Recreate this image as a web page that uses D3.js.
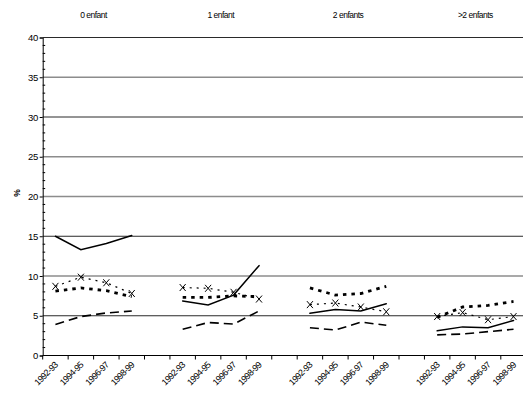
<!DOCTYPE html>
<html><head><meta charset="utf-8">
<script src="https://cdn.jsdelivr.net/npm/d3@7"></script>
<style>
body{margin:0;background:#fff;}
svg{display:block;font-family:"Liberation Sans",Arial,sans-serif;}
</style></head>
<body><svg id="c" width="523" height="400"></svg>
<script>
const groups = ["0 enfant", "1 enfant", "2 enfants", ">2 enfants"];
const periods = ["1992-93", "1994-95", "1996-97", "1998-99"];
const yTicks = [0, 5, 10, 15, 20, 25, 30, 35, 40];
// values per group, in period order
const solidSeries  = [15.0, 13.3, 14.1, 15.1,  6.85, 6.35, 7.6, 11.3,  5.3, 5.8, 5.6, 6.5,  3.1, 3.6, 3.5, 4.4];
const crossSeries  = [8.7, 9.85, 9.15, 7.8,  8.55, 8.45, 7.95, 7.1,  6.4, 6.6, 6.1, 5.5,  4.9, 5.4, 4.5, 4.9];
const dottedSeries = [8.1, 8.5, 8.15, 7.4,  7.3, 7.3, 7.5, 7.4,  8.5, 7.6, 7.8, 8.7,  4.8, 6.1, 6.3, 6.8];
const dashSeries   = [3.9, 4.9, 5.35, 5.6,  3.3, 4.15, 3.95, 5.6,  3.5, 3.2, 4.2, 3.8,  2.6, 2.7, 3.0, 3.3];

(function () {
const svg = d3.select("#c");
const left = 42.7, slotW = 25.45, nSlots = 19;
const plotTop = 37.5, plotBottom = 355.5;

const slots = d3.range(nSlots);
const x = d3.scaleBand().domain(slots).range([left, left + nSlots * slotW]).paddingInner(0).paddingOuter(0);
const y = d3.scaleLinear().domain([0, 40]).range([plotBottom, plotTop]);

function slotOf(g, i) { return g * 5 + i; }

// gridlines
const darkLines = new Set([40, 30, 15, 5]);
svg.append("g").selectAll("line").data(yTicks.filter(d => d > 0)).join("line")
  .attr("x1", left).attr("x2", 523)
  .attr("y1", d => y(d)).attr("y2", d => y(d))
  .attr("stroke", d => darkLines.has(d) ? "#2a2a2a" : "#8c8c8c")
  .attr("stroke-width", d => darkLines.has(d) ? 1 : 1.6);

// y axis
const yAxis = svg.append("g").attr("transform", `translate(${left},0)`)
  .call(d3.axisLeft(y).tickValues(yTicks).tickSize(3).tickPadding(2).tickFormat(d3.format("d")));
yAxis.select(".domain").attr("stroke", "#000");
yAxis.selectAll(".tick line").attr("stroke", "#000");
yAxis.selectAll("text").attr("font-size", 9.5).attr("fill", "#000")
  .attr("font-family", "Liberation Sans, Arial, sans-serif").attr("letter-spacing", -0.5);
// minor ticks
svg.append("g").selectAll("line").data(d3.range(0, 41).filter(d => d % 5 !== 0)).join("line")
  .attr("x1", left).attr("x2", left + 2.5)
  .attr("y1", d => y(d)).attr("y2", d => y(d))
  .attr("stroke", "#000").attr("stroke-width", 1);

// x axis
svg.append("line").attr("x1", left).attr("x2", 523).attr("y1", plotBottom).attr("y2", plotBottom)
  .attr("stroke", "#000");
svg.append("g").selectAll("line").data(d3.range(nSlots + 1)).join("line")
  .attr("x1", d => left + d * x.bandwidth()).attr("x2", d => left + d * x.bandwidth())
  .attr("y1", plotBottom).attr("y2", plotBottom + 4).attr("stroke", "#000");

// x labels
const labelData = [];
groups.forEach((g, gi) => periods.forEach((p, pi) => labelData.push({ s: slotOf(gi, pi), t: p })));
svg.append("g").selectAll("text").data(labelData).join("text")
  .attr("transform", d => `translate(${x(d.s) + x.bandwidth() / 2 + 3},${plotBottom + 10}) rotate(-45)`)
  .attr("text-anchor", "end").attr("font-size", 9).attr("letter-spacing", -0.6)
  .text(d => d.t);

// group titles
svg.append("g").selectAll("text").data(groups).join("text")
  .attr("x", (d, gi) => (x(slotOf(gi, 0)) + x(slotOf(gi, 3)) + x.bandwidth()) / 2)
  .attr("y", 18).attr("text-anchor", "middle").attr("font-size", 8.5).attr("letter-spacing", -0.5)
  .text(d => d);

// y title
svg.append("text").attr("transform", `translate(20,193) rotate(-90)`)
  .attr("text-anchor", "middle").attr("font-size", 8.5).attr("font-weight", "bold").text("%");

// series
function groupPts(vals, gi) {
  return periods.map((p, pi) => ({ s: slotOf(gi, pi), v: vals[gi * 4 + pi] }));
}
const line = d3.line().x(d => x(d.s) + x.bandwidth() / 2).y(d => y(d.v));
const styles = [
  { vals: dashSeries, w: 1.6, dash: "9,5", cap: "butt" },
  { vals: dottedSeries, w: 2.8, dash: "3.5,5", cap: "butt" },
  { vals: crossSeries, w: 1.2, dash: "2,5", cap: "butt" },
  { vals: solidSeries, w: 1.5, dash: null, cap: "round" }
];
const gSeries = svg.append("g");
styles.forEach(st => {
  groups.forEach((g, gi) => {
    gSeries.append("path").datum(groupPts(st.vals, gi))
      .attr("d", line).attr("fill", "none").attr("stroke", "#000")
      .attr("stroke-width", st.w).attr("stroke-dasharray", st.dash).attr("stroke-linecap", st.cap);
  });
});
// X markers
const crossPts = [];
groups.forEach((g, gi) => crossPts.push(...groupPts(crossSeries, gi)));
gSeries.append("g").selectAll("path").data(crossPts).join("path")
  .attr("transform", d => `translate(${x(d.s) + x.bandwidth() / 2},${y(d.v)})`)
  .attr("d", "M-3,-3.5L3,3.5M3,-3.5L-3,3.5").attr("stroke", "#000").attr("stroke-width", 1).attr("fill", "none");
})();
</script></body></html>
